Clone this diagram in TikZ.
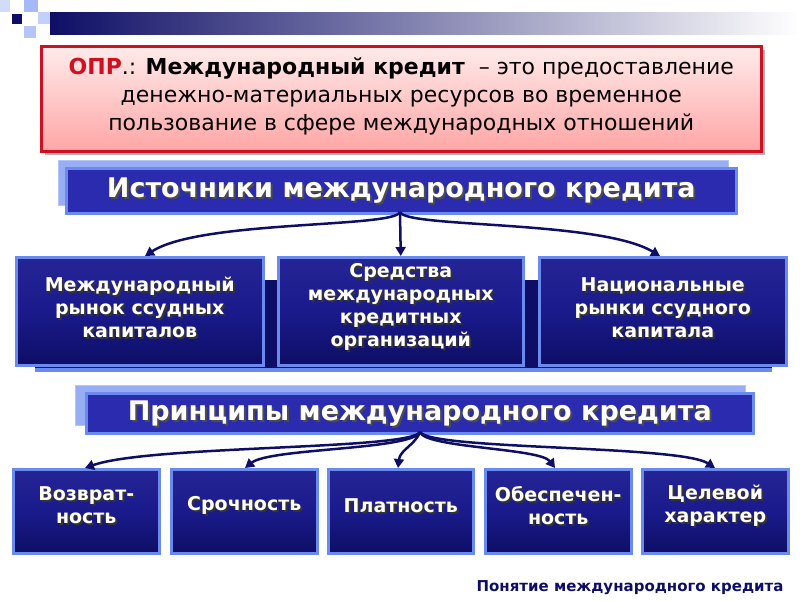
\documentclass[tikz,border=0pt]{standalone}
\usepackage{fontspec}
\setmainfont{DejaVu Sans}
\usetikzlibrary{arrows.meta,shadows}
\definecolor{navy}{HTML}{1A1A8C}
\definecolor{dnavy}{HTML}{0E0E66}
\definecolor{lblue}{HTML}{6A8AF0}
\definecolor{tblue}{HTML}{2B2BB0}
\definecolor{redb}{HTML}{D01020}
\tikzset{
 x=1pt,y=-1pt,
 sbox/.style={draw=lblue,line width=2.5pt,top color=tblue!85!black,bottom color=dnavy,middle color=navy,anchor=north west},
 btxt/.style={text=white,font=\bfseries\fontsize{19}{23}\selectfont,align=center},
 bsh/.style={btxt,text=black!80},
 tbox/.style={draw=lblue,line width=2.5pt,fill=tblue,anchor=north west,inner sep=0},
 ttxt/.style={font=\bfseries\fontsize{27}{30}\selectfont,text=white},
 tshadow/.style={fill=lblue!70,draw=lblue!50},
 arr/.style={draw=dnavy,line width=2.5pt,-{Triangle[length=9pt,width=10pt]}},
}
\begin{document}
\begin{tikzpicture}
\useasboundingbox (0,0) rectangle (800,600);
% header bar
\shade[left color=dnavy,right color=white] (50,12) rectangle (800,34);
\fill[dnavy] (12,14) rectangle (22,24);
\fill[lblue!60] (24,0) rectangle (38,12);
\fill[lblue!40] (38,12) rectangle (50,24);
\fill[lblue!50] (24,26) rectangle (36,38);
\fill[lblue!30] (0,0) rectangle (10,12);
% red definition box
\fill[black!30] (45,50) rectangle (765,155);
\node[draw=redb,line width=2.5pt,top color=red!8,bottom color=red!35,minimum width=720,minimum height=105,anchor=north west,inner sep=0] (def) at (40,45) {};
\node[font=\fontsize{22}{28}\selectfont,align=center] (dtext) at ([yshift=2]def.center) {\textbf{\textcolor{redb}{ОПР}}.: \textbf{Международный кредит}~ – это предоставление\\денежно-материальных ресурсов во временное\\пользование в сфере международных отношений};
% title 1
\fill[tshadow] (58,160) rectangle (728,205);
\node[tbox,minimum width=670,minimum height=45] (t1) at (65,167) {};
\node[ttxt,text=black!70] at ([shift={(2,2)}]t1.center) {Источники международного кредита};
\node[ttxt] (t1t) at (t1.center) {Источники международного кредита};
% dark band
\fill[dnavy] (35,280) rectangle (772,372);
\fill[lblue] (35,368) rectangle (772,372);
% three boxes
\node[sbox,minimum width=247,minimum height=108] (a1) at (15,256) {};
\node[sbox,minimum width=245,minimum height=108] (a2) at (277,256) {};
\node[sbox,minimum width=247,minimum height=108] (a3) at (538,256) {};
\foreach \n/\t in {a1/{Международный\\рынок ссудных\\капиталов},a2/{Средства\\международных\\кредитных\\организаций},a3/{Национальные\\рынки ссудного\\капитала}}{
  \node[bsh] at ([shift={(2,-2)}]\n.center) {\t};
  \node[btxt] at ([shift={(0,-4)}]\n.center) {\t};
}
\coordinate (s1) at (400,212);
\draw[arr] (s1) .. controls (395,228) and (200,220) .. (a1.north -| 145,0);
\draw[arr] (s1) -- (a2.north);
\draw[arr] (s1) .. controls (405,228) and (600,220) .. (a3.north -| 660,0);
% title 2
\fill[tshadow] (75,385) rectangle (745,425);
\node[tbox,minimum width=667,minimum height=40] (t2) at (85,392) {};
\node[ttxt,text=black!70] at ([shift={(2,2)}]t2.center) {Принципы международного кредита};
\node[ttxt] (t2t) at (t2.center) {Принципы международного кредита};
% five boxes
\node[sbox,minimum width=146,minimum height=84] (b1) at (12,468) {};
\node[sbox,minimum width=146,minimum height=84] (b2) at (170,468) {};
\node[sbox,minimum width=145,minimum height=84] (b3) at (327,468) {};
\node[sbox,minimum width=146,minimum height=84] (b4) at (484,468) {};
\node[sbox,minimum width=146,minimum height=84] (b5) at (641,468) {};
\foreach \n/\t in {b1/{Возврат-\\ность},b2/{Срочность},b3/{Платность},b4/{Обеспечен-\\ность},b5/{Целевой\\характер}}{
  \node[bsh] at ([shift={(2,-4)}]\n.center) {\t};
  \node[btxt] at ([shift={(0,-6)}]\n.center) {\t};
}
\coordinate (s2) at (420,432);
\draw[arr] (s2) .. controls (410,450) and (150,445) .. (b1.north -| 85,0);
\draw[arr] (s2) .. controls (412,450) and (270,448) .. (b2.north -| 245,0);
\draw[arr] (s2) .. controls (415,445) and (400,450) .. (b3.north -| 398,0);
\draw[arr] (s2) .. controls (425,448) and (540,448) .. (b4.north -| 555,0);
\draw[arr] (s2) .. controls (430,450) and (680,445) .. (b5.north -| 715,0);
% footer
\node[anchor=east,text=dnavy,font=\bfseries\fontsize{15}{17}\selectfont] (foot) at (787,588) {Понятие международного кредита};
\end{tikzpicture}
\end{document}
